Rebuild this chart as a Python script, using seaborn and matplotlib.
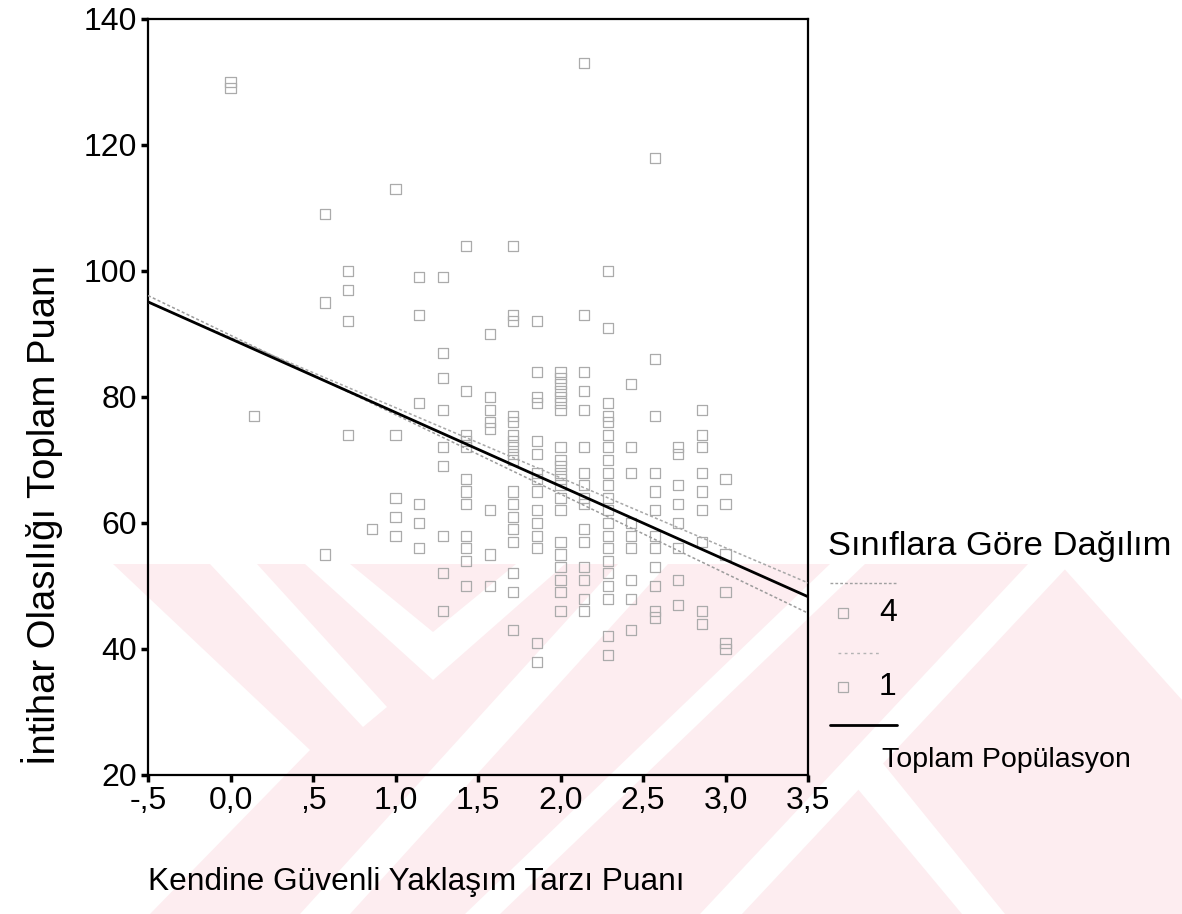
import matplotlib
matplotlib.use("Agg")
import numpy as np
import pandas as pd
import matplotlib.pyplot as plt
import seaborn as sns
from matplotlib.patches import Polygon
from matplotlib.lines import Line2D

# ---------------- data ----------------
score_levels = [0.00, 0.14, 0.57, 0.71, 0.86, 1.00, 1.14, 1.29, 1.43, 1.57,
                1.71, 1.86, 2.00, 2.14, 2.29, 2.43, 2.57, 2.71, 2.86, 3.00]

group4_values = [
    [130], [], [109, 55], [100, 92], [59], [113, 61], [99, 79, 60],
    [99, 83, 72, 58, 46], [104, 74, 72, 65, 58, 54], [90, 78, 75, 55],
    [104, 92, 76, 73, 71, 65, 61, 57, 49], [92, 80, 73, 68, 65, 60, 56, 38],
    [84, 82, 80, 78, 70, 68, 66, 62, 55, 51, 46], [133, 84, 78, 68, 64, 59, 53, 48],
    [100, 79, 76, 72, 68, 64, 60, 56, 52, 48, 39], [82, 68, 58, 51, 43],
    [118, 77, 65, 58, 53, 46], [72, 66, 60, 51], [78, 72, 65, 57, 44], [67, 55, 41],
]
group1_values = [
    [129], [77], [95], [97, 74], [], [74, 64, 58], [93, 63, 56],
    [87, 78, 69, 52], [81, 73, 67, 63, 56, 50], [80, 76, 62, 50],
    [93, 77, 74, 72, 70, 63, 59, 52, 43], [84, 79, 71, 67, 62, 58, 41],
    [83, 81, 79, 72, 69, 67, 64, 57, 53, 49], [93, 81, 72, 66, 63, 57, 51, 46],
    [91, 77, 74, 70, 66, 62, 58, 54, 50, 42], [72, 60, 56, 48],
    [86, 68, 62, 56, 50, 45], [71, 63, 56, 47], [74, 68, 62, 46], [63, 49, 40],
]

fit_x = [-0.5, 3.5]
fit_total = [95.1, 48.3]
fit_group4 = [96.1, 45.7]
fit_group1 = [95.0, 50.5]

x_ticks = [-0.5, 0.0, 0.5, 1.0, 1.5, 2.0, 2.5, 3.0, 3.5]
x_tick_labels = ["-,5", "0,0", ",5", "1,0", "1,5", "2,0", "2,5", "3,0", "3,5"]
y_ticks = [20, 40, 60, 80, 100, 120, 140]
y_tick_labels = ["20", "40", "60", "80", "100", "120", "140"]

legend_title = "Sınıflara Göre Dağılım"
group_labels = ["4", "1"]
total_label = "Toplam Popülasyon"
x_label = "Kendine Güvenli Yaklaşım Tarzı Puanı"
y_label = "İntihar Olasılığı Toplam Puanı"

rows = []
for lvl, vals in zip(score_levels, group4_values):
    for v in vals:
        rows.append((lvl, v, "4"))
for lvl, vals in zip(score_levels, group1_values):
    for v in vals:
        rows.append((lvl, v, "1"))
df = pd.DataFrame(rows, columns=["score", "value", "grp"])

# ---------------- figure ----------------
sns.set_theme(style="white")
plt.rcParams["font.family"] = ["Liberation Sans", "DejaVu Sans"]

W, H = 1182, 914
fig = plt.figure(figsize=(W / 100, H / 100), dpi=100)
fig.patch.set_facecolor("white")


def fx(px):
    return px / W


def fy(py):
    return 1 - py / H


def fig_poly(pts, color, z):
    p = Polygon([(fx(x), fy(y)) for x, y in pts], closed=True,
                transform=fig.transFigure, facecolor=color,
                edgecolor="none", zorder=z)
    fig.add_artist(p)


# faint watermark in the background
pink = "#fdedf0"
fig_poly([(113, 564), (1060, 564), (1182, 700), (1182, 914), (150, 914),
          (310, 750)], pink, -3)
white = "white"
fig_poly([(210, 564), (257, 564), (387, 707), (363, 727)], white, -2)
fig_poly([(305, 564), (350, 564), (433, 632), (516, 564), (565, 564),
          (433, 680)], white, -2)
fig_poly([(300, 914), (350, 914), (668, 564), (618, 564)], white, -2)
fig_poly([(465, 914), (500, 914), (865, 564), (830, 564)], white, -2)
fig_poly([(700, 914), (742, 914), (1070, 564), (1028, 564)], white, -2)
fig_poly([(842, 770), (868, 745), (1005, 914), (962, 914)], white, -2)

ax = fig.add_axes([fx(148), fy(775), fx(808) - fx(148), (775 - 19) / H])
ax.set_facecolor("none")

for g in group_labels:
    sub = df[df["grp"] == g]
    sns.scatterplot(data=sub, x="score", y="value", marker="s", s=52,
                    facecolor="none", edgecolor="#ababab", linewidth=0.9,
                    ax=ax, legend=False, zorder=2)

sns.lineplot(x=fit_x, y=fit_group4, color="#9c9c9c", linewidth=1.1,
             linestyle=(0, (2, 1.5)), ax=ax, zorder=3)
sns.lineplot(x=fit_x, y=fit_group1, color="#a8a8a8", linewidth=1.1,
             linestyle=(0, (2, 1.5)), ax=ax, zorder=3)
sns.lineplot(x=fit_x, y=fit_total, color="black", linewidth=2.0, ax=ax,
             zorder=4)

ax.set_xlim(-0.5, 3.5)
ax.set_ylim(20, 140)
ax.set_xticks(x_ticks)
ax.set_xticklabels(x_tick_labels)
ax.set_yticks(y_ticks)
ax.set_yticklabels(y_tick_labels)
ax.set_xlabel("")
ax.set_ylabel("")
ax.tick_params(axis="both", direction="out", length=5, width=2.5,
               colors="black", labelsize=23, pad=3, bottom=True, left=True)
for sp in ax.spines.values():
    sp.set_visible(True)
    sp.set_color("black")
    sp.set_linewidth(1.6)

# axis titles
fig.text(fx(148), fy(882), x_label, ha="left", va="center", fontsize=22.8,
         color="black")
fig.text(fx(42), fy(765), y_label, ha="center", va="bottom", fontsize=27.5,
         rotation=90, color="black")

# legend (drawn by hand, SPSS style)
fig.text(fx(828), fy(547), legend_title, ha="left", va="center",
         fontsize=24.8, color="black")
fig.add_artist(Line2D([fx(830), fx(897)], [fy(583), fy(583)],
                      transform=fig.transFigure, color="#a0a0a0",
                      linewidth=1.0, linestyle=(0, (2, 1.5))))
fig.add_artist(Line2D([fx(843)], [fy(613)], transform=fig.transFigure,
                      marker="s", markersize=7, markerfacecolor="none",
                      markeredgecolor="#ababab", markeredgewidth=0.9,
                      linestyle="none"))
fig.text(fx(879), fy(613), group_labels[0], ha="left", va="center",
         fontsize=23, color="black")
fig.add_artist(Line2D([fx(838), fx(880)], [fy(653), fy(653)],
                      transform=fig.transFigure, color="#b4b4b4",
                      linewidth=1.0, linestyle=(0, (2, 2.5))))
fig.add_artist(Line2D([fx(843)], [fy(687)], transform=fig.transFigure,
                      marker="s", markersize=7, markerfacecolor="none",
                      markeredgecolor="#ababab", markeredgewidth=0.9,
                      linestyle="none"))
fig.text(fx(879), fy(687), group_labels[1], ha="left", va="center",
         fontsize=23, color="black")
fig.add_artist(Line2D([fx(830), fx(897)], [fy(725), fy(725)],
                      transform=fig.transFigure, color="black",
                      linewidth=2.0))
fig.text(fx(882), fy(760), total_label, ha="left", va="center",
         fontsize=20.5, color="black")

fig.savefig("out.png", dpi=100, facecolor="white")
